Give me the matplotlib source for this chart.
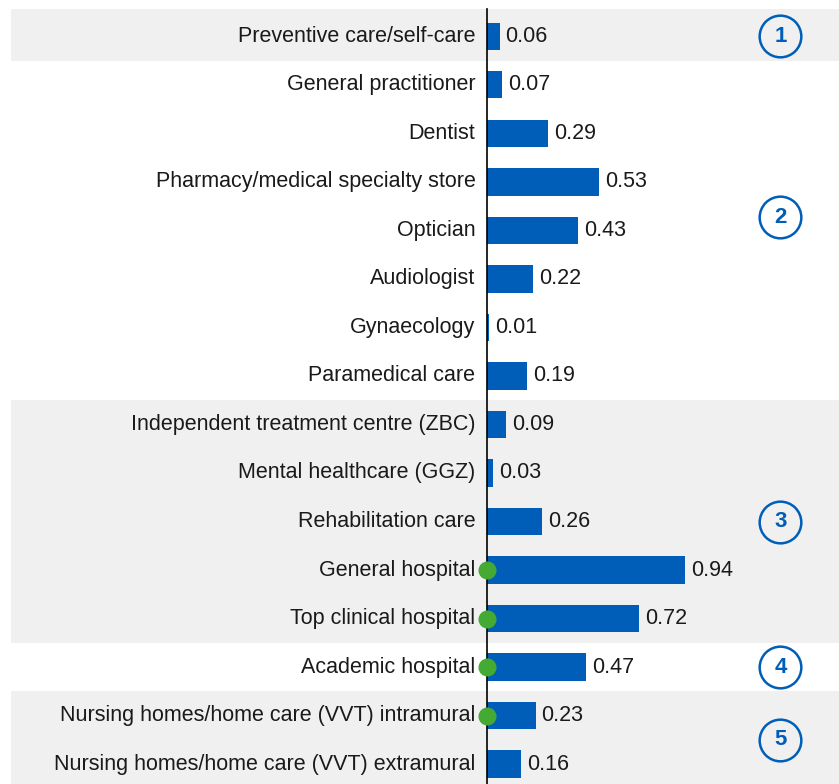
import matplotlib.pyplot as plt
from matplotlib.patches import Rectangle
import matplotlib.transforms as mtransforms

plt.rcParams['font.family'] = ['Liberation Sans', 'DejaVu Sans']

categories = [
    'Preventive care/self-care', 'General practitioner', 'Dentist',
    'Pharmacy/medical specialty store', 'Optician', 'Audiologist',
    'Gynaecology', 'Paramedical care', 'Independent treatment centre (ZBC)',
    'Mental healthcare (GGZ)', 'Rehabilitation care', 'General hospital',
    'Top clinical hospital', 'Academic hospital',
    'Nursing homes/home care (VVT) intramural',
    'Nursing homes/home care (VVT) extramural',
]
values = [0.06, 0.07, 0.29, 0.53, 0.43, 0.22, 0.01, 0.19,
          0.09, 0.03, 0.26, 0.94, 0.72, 0.47, 0.23, 0.16]
marked = ['General hospital', 'Top clinical hospital', 'Academic hospital',
          'Nursing homes/home care (VVT) intramural']
# groups: (label, first row, last row, shaded)
groups = [('1', 0, 0, True), ('2', 1, 7, False), ('3', 8, 12, True),
          ('4', 13, 13, False), ('5', 14, 15, True)]
group_label_pos = [0, 3.73, 10, 13, 14.5]

blue = '#005EB8'
green = '#44AA33'
band = '#F0F0F0'

fig = plt.figure(figsize=(8.39, 7.84), dpi=100)
ax = fig.add_axes([487 / 839, -0.0055, 352 / 839, 0.99])

n = len(categories)
ys = list(range(n))
ax.set_ylim(n - 0.5, -0.5)
ax.set_xlim(0, 1.668)

trans = mtransforms.blended_transform_factory(fig.transFigure, ax.transData)
for (lab, a, b, shaded) in groups:
    if shaded:
        top = a - 0.5 - (0.06 if a == 0 else 0)
        r = Rectangle((11 / 839, top), 1 - 11 / 839, b + 0.5 - top,
                      transform=trans, facecolor=band, edgecolor='none',
                      zorder=0, clip_on=False)
        fig.add_artist(r)

ax.barh(ys, values, height=0.56, color=blue, zorder=3)
for y, v in zip(ys, values):
    ax.text(v + 0.028, y, f'{v:.2f}', va='center', ha='left',
            fontsize=15.5, color='#1a1a1a', zorder=4)
    ax.text(-0.055, y, categories[y], va='center', ha='right',
            fontsize=15.5, color='#1a1a1a', zorder=4)

for y, c in enumerate(categories):
    if c in marked:
        ax.plot([0], [y], 'o', color=green, markersize=12, zorder=5,
                clip_on=False)

ax.plot([0, 0], [-0.56, n - 0.4], color='black', linewidth=1.2, zorder=4,
        clip_on=False)

for (lab, a, b, shaded), gy in zip(groups, group_label_pos):
    ax.plot([1.39], [gy], 'o', markersize=30, markerfacecolor='none',
            markeredgecolor=blue, markeredgewidth=1.8, zorder=5)
    ax.text(1.39, gy, lab, ha='center', va='center', fontsize=16,
            fontweight='bold', color=blue, zorder=6)

ax.set_facecolor('none')
for s in ax.spines.values():
    s.set_visible(False)
ax.set_xticks([])
ax.set_yticks([])

fig.savefig('out.png', dpi=100)
